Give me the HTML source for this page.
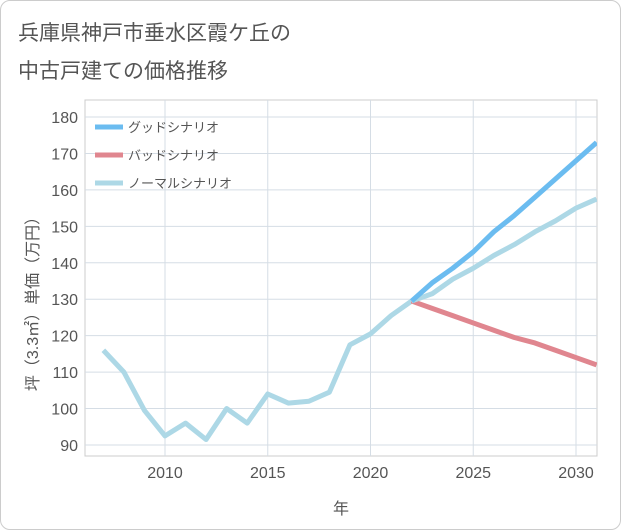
<!DOCTYPE html>
<html><head><meta charset="utf-8"><style>
body{margin:0;background:#fff;font-family:"Liberation Sans","Noto Sans CJK JP",sans-serif;}
#card{position:absolute;left:0;top:0;width:619px;height:528px;border:1px solid #ccc;border-radius:10px;background:#fff;}
</style></head><body>
<div id="card">
<svg id="chart" width="621" height="530" style="position:absolute;left:-1px;top:-1px">
<text x="18" y="40" font-size="21" fill="#555">兵庫県神戸市垂水区霞ケ丘の</text>
<text x="18" y="78" font-size="21" fill="#555">中古戸建ての価格推移</text>
<g id="grid"></g><g id="axes"></g><g id="series"></g><g id="legend"></g>
</svg></div>
<script>
const years=[2007,2008,2009,2010,2011,2012,2013,2014,2015,2016,2017,2018,2019,2020,2021,2022];
const hist=[116,110,99.5,92.5,96,91.5,100,96,104,101.5,102,104.5,117.5,120.5,125.5,129.5];
const fYears=[2022,2023,2024,2025,2026,2027,2028,2029,2030,2031];
const good=[129.5,134.5,138.5,143,148.5,153,158,163,168,173];
const normal=[129.5,131.5,135.5,138.5,142,145,148.5,151.5,155,157.5];
const bad=[129.5,127.5,125.5,123.5,121.5,119.5,118,116,114,112];
const xTicks=[2010,2015,2020,2025,2030];
const yTicks=[90,100,110,120,130,140,150,160,170,180];
const ns="http://www.w3.org/2000/svg";
const L=85,R=597,T=100,B=456;
const x=v=>165+(v-2010)*20.55;
const y=v=>445-(v-90)*3.644;
function mk(p,t,a){const e=document.createElementNS(ns,t);for(const k in a)e.setAttribute(k,a[k]);p.appendChild(e);return e;}
const g=document.getElementById('grid'),ax=document.getElementById('axes'),s=document.getElementById('series'),lg=document.getElementById('legend');
const bg=mk(g,'rect',{x:L,y:T,width:R-L,height:B-T,fill:'#fff',stroke:'#ccc'});


xTicks.forEach(v=>{const l=mk(g,'line',{x1:x(v),x2:x(v),y1:T,y2:B,stroke:'#d5dde5'});


const t=mk(ax,'text',{x:x(v),y:478,'font-size':16,fill:'#555','text-anchor':'middle'});t.textContent=v;

});
yTicks.forEach(v=>{const l=mk(g,'line',{x1:L,x2:R,y1:y(v),y2:y(v),stroke:'#d5dde5'});


const t=mk(ax,'text',{x:78,y:y(v)+6,'font-size':16,fill:'#555','text-anchor':'end'});t.textContent=v;

});
const xt=mk(ax,'text',{x:341,y:514,'font-size':16,fill:'#555','text-anchor':'middle'});xt.textContent='年';


const yt=mk(ax,'text',{x:0,y:0,'font-size':16,fill:'#555','text-anchor':'middle',transform:'translate(38,300) rotate(-90)'});yt.textContent='坪（3.3㎡）単価（万円）';


const cp=mk(s,'clipPath',{id:'cp'});mk(cp,'rect',{x:L,y:T,width:R-L,height:B-T});
function line(xs,vs,c,n){const p=mk(s,'polyline',{points:xs.map((v,i)=>x(v)+','+y(vs[i])).join(' '),fill:'none',stroke:c,'stroke-width':5,'stroke-linejoin':'round','clip-path':'url(#cp)'});

}
line(years,hist,'#add8e6','historical-line');
line(fYears,bad,'#e0868f','bad-scenario-line');
line(fYears,normal,'#add8e6','normal-scenario-line');
line(fYears,good,'#6bbcf0','good-scenario-line');
[['グッドシナリオ','#6bbcf0',127],['バッドシナリオ','#e0868f',155],['ノーマルシナリオ','#add8e6',183]].forEach(([n,c,yy])=>{
const l=mk(lg,'line',{x1:95,x2:123,y1:yy,y2:yy,stroke:c,'stroke-width':5});


const t=mk(lg,'text',{x:128,y:yy+5,'font-size':13,fill:'#555'});t.textContent=n;

});
</script></body></html>
